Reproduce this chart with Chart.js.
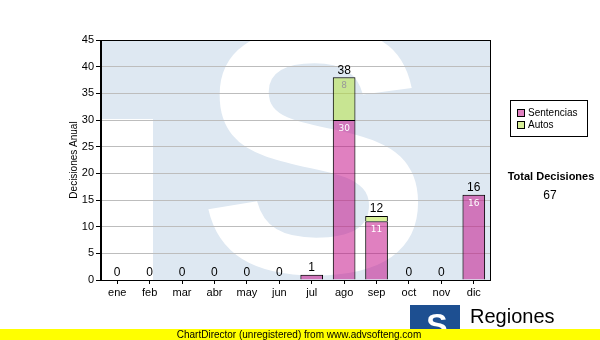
<!DOCTYPE html>
<html>
<head>
<meta charset="utf-8">
<script src="https://cdn.jsdelivr.net/npm/chart.js@4"></script>
<style>
  html, body { margin: 0; padding: 0; background: #fff; }
  #wrap { width: 600px; height: 340px; position: relative; }
</style>
</head>
<body>
<div id="wrap"><canvas id="decChart" width="600" height="340"></canvas></div>
<script>
// datos
const months = ['ene', 'feb', 'mar', 'abr', 'may', 'jun', 'jul', 'ago', 'sep', 'oct', 'nov', 'dic'];
const sentencias = [0, 0, 0, 0, 0, 0, 1, 30, 11, 0, 0, 16];
const autos = [0, 0, 0, 0, 0, 0, 0, 8, 1, 0, 0, 0];
const seriesNames = ['Sentencias', 'Autos'];
const yMax = 45;
const yStep = 5;
const yTitle = 'Decisiones Anual';
const totalLabel = 'Total Decisiones';
const footerText = 'ChartDirector (unregistered) from www.advsofteng.com';
const logoText = 'Regiones';

const pinkFill = 'rgba(193, 1, 129, 0.5)';
const greenFill = 'rgba(177, 225, 49, 0.5)';
const pinkSwatch = '#e080c0';
const greenSwatch = '#d8f098';
const FONT = "'Liberation Sans', Arial, sans-serif";

const totals = months.map((m, i) => sentencias[i] + autos[i]);
const grandTotal = totals.reduce((a, b) => a + b, 0);

// marca de agua (logo) detras del area del grafico
const watermark = {
    id: 'watermark',
    beforeDraw(chart) {
        const { ctx, chartArea: a } = chart;
        ctx.save();
        ctx.beginPath();
        ctx.rect(a.left, a.top, a.right - a.left, a.bottom - a.top);
        ctx.clip();
        ctx.fillStyle = '#dee8f2';
        ctx.fillRect(a.left, a.top, a.right - a.left, a.bottom - a.top);
        ctx.fillStyle = '#fff';
        ctx.fillRect(a.left, 119, 153 - a.left, a.bottom - 119);
        ctx.font = "bold 350px " + FONT;
        ctx.textAlign = 'center';
        ctx.textBaseline = 'alphabetic';
        ctx.fillText('S', 315, 272);
        ctx.restore();
    }
};

// etiquetas de valores, leyenda, totales y pie
const extras = {
    id: 'extras',
    afterDatasetsDraw(chart) {
        const { ctx, chartArea: a, scales } = chart;
        ctx.save();
        // borde del area
        ctx.strokeStyle = '#000';
        ctx.lineWidth = 1;
        ctx.strokeRect(a.left - 0.5, a.top + 0.5, a.right - a.left + 1, a.bottom - a.top);

        // valores internos
        ctx.textAlign = 'center';
        ctx.textBaseline = 'top';
        ctx.font = "9px 'DejaVu Sans', sans-serif";
        chart.data.datasets.forEach((ds, di) => {
            const meta = chart.getDatasetMeta(di);
            meta.data.forEach((bar, i) => {
                const v = ds.data[i];
                if (!v) return;
                if (Math.abs(bar.base - bar.y) < 14) return;
                ctx.fillStyle = di === 0 ? '#fff' : '#999';
                ctx.fillText(String(v), bar.x, bar.y + 4);
            });
        });

        // totales encima de cada barra
        ctx.font = "12px " + FONT;
        ctx.fillStyle = '#000';
        ctx.textBaseline = 'bottom';
        totals.forEach((t, i) => {
            const x = scales.x.getPixelForValue(i);
            const y = scales.y.getPixelForValue(t);
            ctx.fillText(String(t), x, y - 1);
        });

        // titulo del eje y
        ctx.save();
        ctx.translate(74, (a.top + a.bottom) / 2);
        ctx.rotate(-Math.PI / 2);
        ctx.font = "10px " + FONT;
        ctx.textBaseline = 'middle';
        ctx.fillText(yTitle, 0, 0);
        ctx.restore();

        // leyenda
        ctx.fillStyle = '#fff';
        ctx.fillRect(510, 100, 77, 36);
        ctx.strokeStyle = '#000';
        ctx.strokeRect(510.5, 100.5, 77, 36);
        const swatches = [pinkSwatch, greenSwatch];
        ctx.textAlign = 'left';
        ctx.textBaseline = 'middle';
        ctx.font = "10px " + FONT;
        seriesNames.forEach((name, k) => {
            const y = 113 + k * 12;
            ctx.fillStyle = swatches[k];
            ctx.fillRect(517, y - 4, 8, 8);
            ctx.strokeStyle = '#000';
            ctx.strokeRect(517.5, y - 3.5, 7, 7);
            ctx.fillStyle = '#000';
            ctx.fillText(name, 528, y);
        });

        // total
        ctx.textAlign = 'center';
        ctx.font = "bold 11px " + FONT;
        ctx.fillText(totalLabel, 551, 177);
        ctx.font = "12px " + FONT;
        ctx.fillText(String(grandTotal), 550, 196);

        // logo inferior
        ctx.fillStyle = '#1d4f91';
        ctx.fillRect(410, 305, 50, 28);
        ctx.fillStyle = '#fff';
        ctx.font = "bold 32px " + FONT;
        ctx.textBaseline = 'alphabetic';
        ctx.fillText('S', 437, 336);
        ctx.fillStyle = '#000';
        ctx.textAlign = 'left';
        ctx.font = "20px " + FONT;
        ctx.fillText(logoText, 470, 323);
        ctx.font = "9px " + FONT;
        ctx.fillText('Tribunal Supremo de Justicia', 470, 336);

        // franja amarilla
        ctx.fillStyle = '#ffff00';
        ctx.fillRect(0, 329, 600, 11);
        ctx.fillStyle = '#000';
        ctx.textAlign = 'center';
        ctx.textBaseline = 'middle';
        ctx.font = "10px " + FONT;
        ctx.fillText(footerText, 299, 335);
        ctx.restore();
    }
};

Chart.defaults.font.family = FONT;
Chart.defaults.color = '#000';

new Chart(document.getElementById('decChart'), {
    type: 'bar',
    data: {
        labels: months,
        datasets: [
            {
                label: seriesNames[0],
                data: sentencias.map(v => v || null),
                backgroundColor: pinkFill,
                borderColor: '#000',
                borderWidth: 1,
                categoryPercentage: 1,
                barPercentage: 0.7
            },
            {
                label: seriesNames[1],
                data: autos.map(v => v || null),
                backgroundColor: greenFill,
                borderColor: '#000',
                borderWidth: 1,
                categoryPercentage: 1,
                barPercentage: 0.7
            }
        ]
    },
    options: {
        responsive: false,
        animation: false,
        layout: { padding: { left: 0, top: 40, right: 110, bottom: 0 } },
        plugins: {
            legend: { display: false },
            tooltip: { enabled: false }
        },
        scales: {
            x: {
                stacked: true,
                grid: { drawOnChartArea: false, offset: false, tickLength: 4, tickColor: '#000' },
                border: { color: '#000' },
                ticks: { color: '#000', font: { size: 11 }, padding: 2, maxRotation: 0 },
                afterFit: s => { s.height = 60; }
            },
            y: {
                stacked: true,
                min: 0,
                max: yMax,
                grid: { color: '#bdbdbd', tickColor: '#000', tickLength: 5 },
                border: { color: '#000' },
                ticks: { stepSize: yStep, color: '#000', font: { size: 11 }, padding: 2 },
                afterFit: s => { s.width = 101; }
            }
        }
    },
    plugins: [watermark, extras]
});
</script>
</body>
</html>
